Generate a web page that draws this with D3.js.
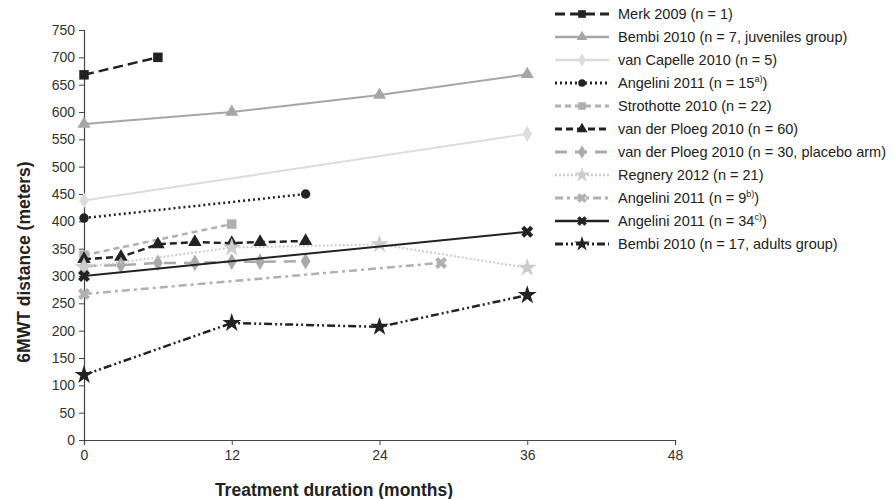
<!DOCTYPE html>
<html>
<head>
<meta charset="utf-8">
<script src="https://cdn.jsdelivr.net/npm/d3@7"></script>
<style>
  body { margin: 0; background: #fff; }
  svg text { font-family: "Liberation Sans", Arial, sans-serif; }
</style>
</head>
<body>
<div id="chart"></div>
<script>
// months and 6MWT values (meters)
var merkMonths = [0, 6];
var merkVals = [668, 700];
var bembiJuvMonths = [0, 12, 24, 36];
var bembiJuvVals = [578, 600, 631, 669];
var capelleMonths = [0, 36];
var capelleVals = [438, 560];
var angelini15Months = [0, 18];
var angelini15Vals = [406, 450];
var strothotteMonths = [0, 12];
var strothotteVals = [338, 395];
var ploegMonths = [0, 3, 6, 9, 12, 14.3, 18];
var ploeg60Vals = [331, 335, 358, 362, 360, 362, 364];
var ploeg30Vals = [318, 320, 324, 324, 326, 326, 327];
var regneryMonths = [0, 12, 24, 36];
var regneryVals = [316, 352, 358, 315];
var angelini9Months = [0, 29];
var angelini9Vals = [267, 324];
var angelini34Months = [0, 36];
var angelini34Vals = [300, 381];
var bembiAdMonths = [0, 12, 24, 36];
var bembiAdVals = [119, 214, 207, 265];

var seriesNames = [
  "Merk 2009 (n = 1)",
  "Bembi 2010 (n = 7, juveniles group)",
  "van Capelle 2010 (n = 5)",
  "Angelini 2011 (n = 15|a)",
  "Strothotte 2010 (n = 22)",
  "van der Ploeg 2010 (n = 60)",
  "van der Ploeg 2010 (n = 30, placebo arm)",
  "Regnery 2012 (n = 21)",
  "Angelini 2011 (n = 9|b)",
  "Angelini 2011 (n = 34|c)",
  "Bembi 2010 (n = 17, adults group)"
];
var xTicks = [0, 12, 24, 36, 48];
var yTicks = d3.range(0, 751, 50);

function zip(ms, vs) {
  return ms.map(function(m, i) { return { m: m, v: vs[i] }; });
}

var series = [
  { pts: zip(merkMonths, merkVals), color: "#222", dash: "10,5", width: 2.5, sym: d3.symbolSquare, size: 90 },
  { pts: zip(bembiJuvMonths, bembiJuvVals), color: "#a6a6a6", dash: null, width: 2, sym: d3.symbolTriangle, size: 75 },
  { pts: zip(capelleMonths, capelleVals), color: "#dcdcdc", dash: null, width: 2, sym: d3.symbolDiamond, size: 75 },
  { pts: zip(angelini15Months, angelini15Vals), color: "#222", dash: "2,3", width: 2.5, sym: d3.symbolCircle, size: 70 },
  { pts: zip(strothotteMonths, strothotteVals), color: "#b0b0b0", dash: "6,4", width: 2.5, sym: d3.symbolSquare, size: 90 },
  { pts: zip(ploegMonths, ploeg60Vals), color: "#222", dash: "7,4", width: 2.5, sym: d3.symbolTriangle, size: 80 },
  { pts: zip(ploegMonths, ploeg30Vals), color: "#aaaaaa", dash: "12,8", width: 2.5, sym: d3.symbolDiamond, size: 80 },
  { pts: zip(regneryMonths, regneryVals), color: "#cccccc", dash: "2,2", width: 2, sym: d3.symbolStar, size: 110 },
  { pts: zip(angelini9Months, angelini9Vals), color: "#b0b0b0", dash: "8,4,3,4", width: 2.5, sym: d3.symbolCross, size: 90, rot: 45 },
  { pts: zip(angelini34Months, angelini34Vals), color: "#222", dash: null, width: 2, sym: d3.symbolCross, size: 90, rot: 45 },
  { pts: zip(bembiAdMonths, bembiAdVals), color: "#222", dash: "8,3,2,3,2,3", width: 2.5, sym: d3.symbolStar, size: 110 }
];

var svg = d3.select("#chart").append("svg")
  .attr("width", 893)
  .attr("height", 499);

var x = d3.scaleLinear().domain([0, 48]).range([84, 675]);
var y = d3.scaleLinear().domain([0, 750]).range([440, 30]);

// Y axis
var yAxis = svg.append("g")
  .attr("transform", "translate(84,0)")
  .call(d3.axisLeft(y).tickValues(yTicks).tickSize(5).tickPadding(4));
yAxis.select(".domain").attr("stroke", "#444").attr("stroke-width", 1.2);
yAxis.selectAll(".tick line").attr("stroke", "#444");
yAxis.selectAll(".tick text").attr("font-size", 14).attr("fill", "#333");

// X axis
var xAxis = svg.append("g")
  .attr("transform", "translate(0,440)")
  .call(d3.axisBottom(x).tickValues(xTicks).tickSize(5).tickPadding(5));
xAxis.select(".domain").attr("stroke", "#444").attr("stroke-width", 1.2);
xAxis.selectAll(".tick line").attr("stroke", "#444");
xAxis.selectAll(".tick text").attr("font-size", 14).attr("fill", "#333");

svg.append("text")
  .attr("x", 334).attr("y", 496)
  .attr("text-anchor", "middle")
  .attr("font-size", 17.5).attr("font-weight", "bold").attr("fill", "#222")
  .text("Treatment duration (months)");

svg.append("text")
  .attr("transform", "translate(30,262) rotate(-90)")
  .attr("text-anchor", "middle")
  .attr("font-size", 17.5).attr("font-weight", "bold").attr("fill", "#222")
  .text("6MWT distance (meters)");

var line = d3.line()
  .x(function(d) { return x(d.m); })
  .y(function(d) { return y(d.v); });

function markerPath(s, k) {
  return d3.symbol().type(s.sym).size(s.size * (k || 1))();
}

series.forEach(function(s) {
  svg.append("path")
    .datum(s.pts)
    .attr("d", line)
    .attr("fill", "none")
    .attr("stroke", s.color)
    .attr("stroke-width", s.width)
    .attr("stroke-dasharray", s.dash);
  svg.selectAll(null)
    .data(s.pts)
    .enter().append("path")
    .attr("d", markerPath(s))
    .attr("transform", function(d) {
      return "translate(" + x(d.m) + "," + y(d.v) + ")" + (s.rot ? " rotate(" + s.rot + ")" : "");
    })
    .attr("fill", s.color);
});

// legend
var legend = svg.append("g");
series.forEach(function(s, i) {
  var ly = 14 + i * 23;
  var g = legend.append("g").attr("transform", "translate(0," + ly + ")");
  g.append("line")
    .attr("x1", 555).attr("x2", 609)
    .attr("stroke", s.color)
    .attr("stroke-width", s.width + 0.5)
    .attr("stroke-dasharray", s.dash);
  g.append("path")
    .attr("d", markerPath(s, 0.65))
    .attr("transform", "translate(582,0)" + (s.rot ? " rotate(" + s.rot + ")" : ""))
    .attr("fill", s.color);
  var parts = seriesNames[i].split("|");
  var t = g.append("text")
    .attr("x", 618).attr("y", 5)
    .attr("font-size", 14.5).attr("fill", "#222")
    .text(parts[0]);
  if (parts.length > 1) {
    t.append("tspan").attr("dy", -6).attr("font-size", 9).text(parts[1]);
    t.append("tspan").attr("dy", 6).text(")");
  }
});
</script>
</body>
</html>
